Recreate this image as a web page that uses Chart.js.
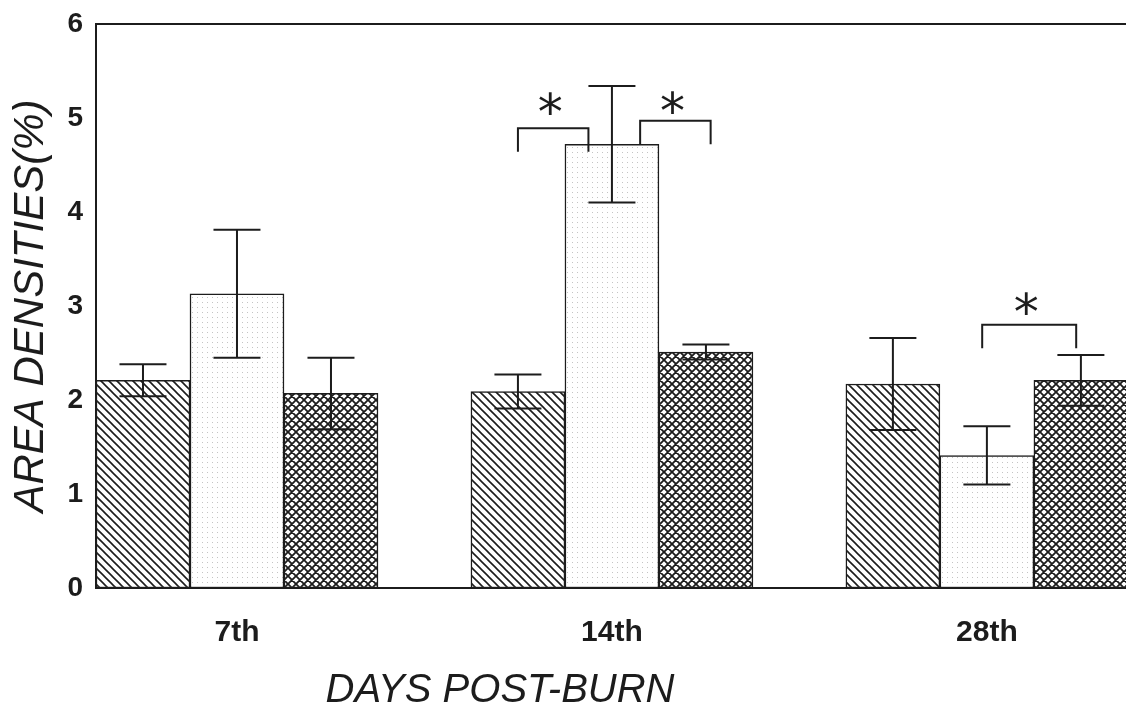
<!DOCTYPE html>
<html>
<head>
<meta charset="utf-8">
<script src="https://cdn.jsdelivr.net/npm/chart.js@4/dist/chart.umd.min.js"></script>
<style>
  html, body { margin: 0; padding: 0; background: #fff; overflow: hidden; }
</style>
</head>
<body>
<canvas id="chart" width="1126" height="709"></canvas>
<script>
// days post-burn groups
var categories = ['7th', '14th', '28th'];

// three series per group (hatched, dotted, cross-hatched)
var hatchedValues = [2.21, 2.09, 2.17];
var dottedValues  = [3.13, 4.72, 1.41];
var crossValues   = [2.07, 2.51, 2.21];

// error bar half-lengths
var hatchedErr = [0.17, 0.18, 0.49];
var dottedErr  = [0.68, 0.62, 0.31];
var crossErr   = [0.38, 0.08, 0.27];

// significance brackets: group index, series from/to, bracket height, star level
var sigGroup  = [1, 1, 2];
var sigFrom   = [0, 1, 1];
var sigTo     = [1, 2, 2];
var sigHeight = [4.89, 4.97, 2.80];
var sigStar   = [5.15, 5.16, 3.02];
var sigLabel  = ['*', '*', '*'];

var yTicks = [0, 1, 2, 3, 4, 5, 6];

var ink = '#1c1c1c';
var sans = '"Liberation Sans", Arial, sans-serif';

function makePattern(kind) {
  var s = kind === 'dots' ? 5 : 8;
  var c = document.createElement('canvas');
  c.width = s; c.height = s;
  var g = c.getContext('2d');
  g.fillStyle = '#fff';
  g.fillRect(0, 0, s, s);
  g.strokeStyle = ink;
  if (kind === 'dots') {
    g.fillStyle = '#c4c4c4';
    g.fillRect(2, 2, 1, 1);
    return g.createPattern(c, 'repeat');
  }
  g.lineWidth = kind === 'cross' ? 1.8 : 1.6;
  g.beginPath();
  // "\" direction
  g.moveTo(-1, -1); g.lineTo(s + 1, s + 1);
  g.moveTo(-1, s - 1); g.lineTo(1, s + 1);
  g.moveTo(s - 1, -1); g.lineTo(s + 1, 1);
  if (kind === 'cross') {
    // "/" direction
    g.moveTo(-1, s + 1); g.lineTo(s + 1, -1);
    g.moveTo(-1, 1); g.lineTo(1, -1);
    g.moveTo(s - 1, s + 1); g.lineTo(s + 1, s - 1);
  }
  g.stroke();
  return g.createPattern(c, 'repeat');
}

function points(vals) {
  return vals.map(function (v, i) { return { x: i, y: v }; });
}

var errors = [hatchedErr, dottedErr, crossErr];

var extras = {
  id: 'extras',
  afterDatasetsDraw: function (chart) {
    var ctx = chart.ctx, ys = chart.scales.y, area = chart.chartArea;
    ctx.save();
    ctx.strokeStyle = ink;
    ctx.lineWidth = 2;

    // top frame line
    ctx.beginPath();
    ctx.moveTo(area.left, area.top);
    ctx.lineTo(area.right, area.top);
    ctx.stroke();

    // error bars
    chart.data.datasets.forEach(function (ds, di) {
      var meta = chart.getDatasetMeta(di);
      meta.data.forEach(function (bar, i) {
        var v = ds.data[i].y, e = errors[di][i];
        var half = bar.width / 4;
        var top = ys.getPixelForValue(v + e);
        var bot = ys.getPixelForValue(v - e);
        ctx.beginPath();
        ctx.moveTo(bar.x, top); ctx.lineTo(bar.x, bot);
        ctx.moveTo(bar.x - half, top); ctx.lineTo(bar.x + half, top);
        ctx.moveTo(bar.x - half, bot); ctx.lineTo(bar.x + half, bot);
        ctx.stroke();
      });
    });

    // significance brackets
    var shiftFrom = [0, 0.3, -0.05];
    var shiftTo = [-0.25, 0.05, -0.05];
    var drop = 0.25;
    ctx.fillStyle = ink;
    ctx.font = '50px "DejaVu Sans", sans-serif';
    ctx.textAlign = 'center';
    ctx.textBaseline = 'alphabetic';
    for (var k = 0; k < sigGroup.length; k++) {
      var b1 = chart.getDatasetMeta(sigFrom[k]).data[sigGroup[k]];
      var b2 = chart.getDatasetMeta(sigTo[k]).data[sigGroup[k]];
      var x1 = b1.x + shiftFrom[k] * b1.width;
      var x2 = b2.x + shiftTo[k] * b2.width;
      var yt = ys.getPixelForValue(sigHeight[k]);
      var yb = ys.getPixelForValue(sigHeight[k] - drop);
      ctx.beginPath();
      ctx.moveTo(x1, yb); ctx.lineTo(x1, yt); ctx.lineTo(x2, yt); ctx.lineTo(x2, yb);
      ctx.stroke();
      ctx.fillText(sigLabel[k], (x1 + x2) / 2 - 3, ys.getPixelForValue(sigStar[k]) + 25);
    }

    // x axis title
    ctx.font = 'italic 40px ' + sans;
    ctx.fillText('DAYS POST-BURN', 500, 702);
    ctx.restore();
  }
};

var ctx = document.getElementById('chart').getContext('2d');
var chart = new Chart(ctx, {
  type: 'bar',
  data: {
    datasets: [
      { label: 'hatched', data: points(hatchedValues), backgroundColor: makePattern('hatch') },
      { label: 'dotted', data: points(dottedValues), backgroundColor: makePattern('dots') },
      { label: 'cross-hatched', data: points(crossValues), backgroundColor: makePattern('cross') }
    ]
  },
  options: {
    responsive: false,
    animation: false,
    layout: { padding: { top: 24, right: 0, left: 0, bottom: 0 } },
    datasets: {
      bar: {
        barThickness: 94,
        borderColor: ink,
        borderWidth: 1.5,
        borderSkipped: false
      }
    },
    plugins: {
      legend: { display: false },
      tooltip: { enabled: false }
    },
    scales: {
      x: {
        type: 'linear',
        offset: false,
        min: -0.376,
        max: 2.371,
        grid: { display: false, drawTicks: false },
        border: { display: true, color: ink, width: 2 },
        afterBuildTicks: function (scale) {
          scale.ticks = categories.map(function (c, i) { return { value: i }; });
        },
        afterFit: function (scale) { scale.height = 121; },
        ticks: {
          autoSkip: false,
          maxRotation: 0,
          padding: 27,
          color: ink,
          font: { family: sans, size: 30, weight: 'bold' },
          callback: function (v) { return categories[v]; }
        }
      },
      y: {
        min: 0,
        max: 6,
        grid: { display: false, drawTicks: false },
        border: { display: true, color: ink, width: 2 },
        afterBuildTicks: function (scale) {
          scale.ticks = yTicks.map(function (v) { return { value: v }; });
        },
        afterFit: function (scale) {
          scale.width = 96;
          scale.paddingTop = 0;
          scale.paddingBottom = 0;
        },
        ticks: {
          padding: 13,
          color: ink,
          font: { family: sans, size: 28, weight: 'bold' }
        },
        title: {
          display: true,
          text: 'AREA DENSITIES(%)',
          color: ink,
          padding: { top: 6, bottom: 0 },
          font: { family: sans, size: 42, style: 'italic' }
        }
      }
    }
  },
  plugins: [extras]
});
</script>
</body>
</html>
